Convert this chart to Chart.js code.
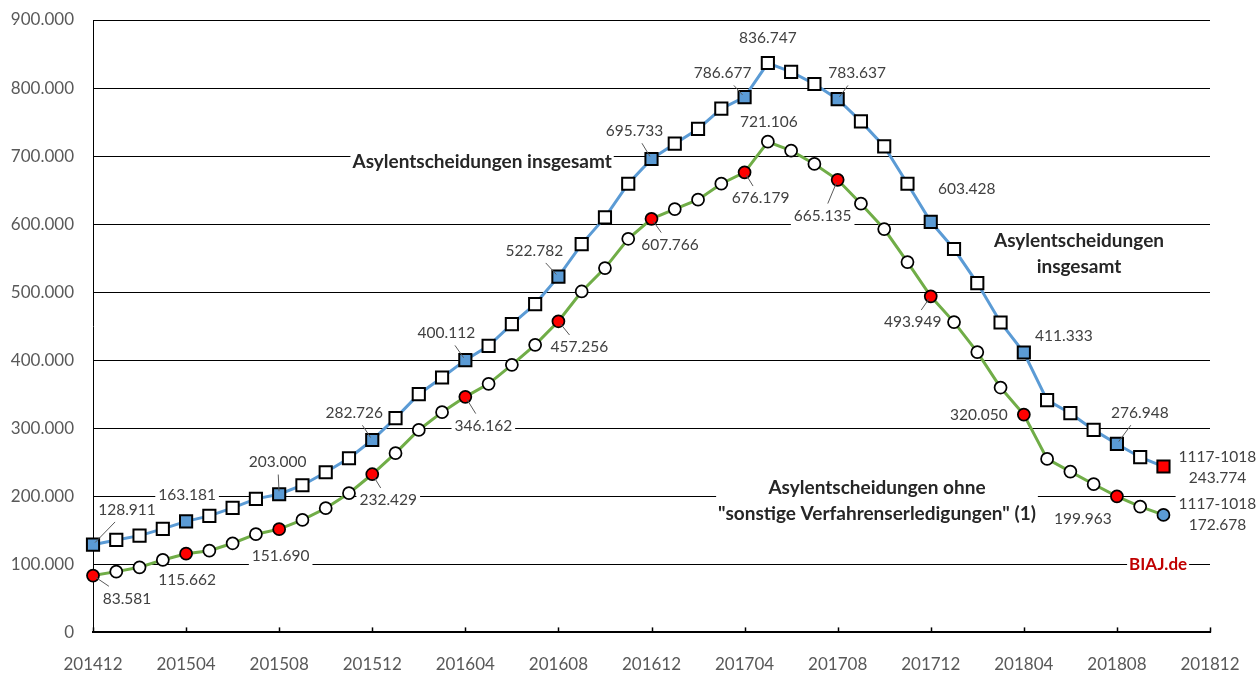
<!DOCTYPE html>
<html><head><meta charset="utf-8">
<script src="https://cdn.jsdelivr.net/npm/chart.js@4.4.1/dist/chart.umd.min.js"></script>
<style>html,body{margin:0;padding:0;background:#fff;}#wrap{width:1260px;height:673px;}</style>
</head><body><div id="wrap"><canvas id="c" width="1260" height="673"></canvas></div>
<script>
const months = ['201412',
 '201501','201502','201503','201504','201505','201506','201507','201508','201509','201510','201511','201512',
 '201601','201602','201603','201604','201605','201606','201607','201608','201609','201610','201611','201612',
 '201701','201702','201703','201704','201705','201706','201707','201708','201709','201710','201711','201712',
 '201801','201802','201803','201804','201805','201806','201807','201808','201809','201810'];
const tickLabels = ['201412','201504','201508','201512','201604','201608','201612','201704','201708','201712','201804','201808','201812'];
const yTicks = [0,100000,200000,300000,400000,500000,600000,700000,800000,900000];
// Asylentscheidungen insgesamt (12-Monats-Summe)
const seriesTotal = [128911,135900,142200,152100,163181,171200,182900,196200,203000,216300,235400,256000,282726,314900,350100,374600,400112,421200,453100,482500,522782,570700,609900,659400,695733,718200,739900,769700,786677,836747,823700,806000,783637,751000,714300,659400,603428,563400,513400,455400,411333,341300,322200,297600,276948,257500,243774];
// Asylentscheidungen ohne "sonstige Verfahrenserledigungen"
const seriesOhne = [83581,89300,95700,106500,115662,120100,131000,144300,151690,165300,182500,204600,232429,263400,297500,323700,346162,365300,393200,422600,457256,501000,535400,578500,607766,622200,635900,659400,676179,721106,707900,688400,665135,630000,592800,544300,493949,456000,411900,359900,320050,255000,236300,217800,199963,184900,172678];
const lastPeriod = '1117-1018';
const nameTotal = 'Asylentscheidungen insgesamt';
const nameTotal2 = ['Asylentscheidungen','insgesamt'];
const nameOhne = ['Asylentscheidungen ohne','"sonstige Verfahrenserledigungen" (1)'];
const source = 'BIAJ.de';

const fmt = v => String(Math.round(v)).replace(/\B(?=(\d{3})+(?!\d))/g,'.');
const last = months.length - 1;

// label layout (pixel offsets from the point, leader line flag)
const totalLabels = [
 {i:0,dx:34,dy:-35,lead:1},{i:4,dx:1,dy:-26},{i:8,dx:-1.5,dy:-32,lead:1},{i:12,dx:-18,dy:-27,lead:1},
 {i:16,dx:-19,dy:-27,lead:1},{i:20,dx:-24,dy:-26,lead:1},{i:24,dx:-17,dy:-28,lead:1},{i:28,dx:-22,dy:-24,lead:1},
 {i:29,dx:0,dy:-25},{i:32,dx:19.5,dy:-26,lead:1},{i:36,dx:36,dy:-33},{i:40,dx:40,dy:-17},
 {i:44,dx:23,dy:-31,lead:1},{i:46,dx:54,dy:1,two:1}];
const ohneLabels = [
 {i:0,dx:34,dy:23,lead:1},{i:4,dx:1,dy:26},{i:8,dx:1.5,dy:26.5},{i:12,dx:16,dy:26,lead:1},
 {i:16,dx:18,dy:29,lead:1},{i:20,dx:21,dy:26,lead:1},{i:24,dx:18.5,dy:26,lead:1},{i:28,dx:16,dy:26,lead:1},
 {i:29,dx:1,dy:-20},{i:32,dx:-15,dy:36,lead:1},{i:36,dx:-18,dy:26,lead:1},{i:40,dx:-45,dy:0},
 {i:44,dx:-34,dy:23},{i:46,dx:54,dy:-0.5,two:1}];

const FONT = 'Lato, "Open Sans", sans-serif';
const valFont = '15.5px ' + FONT;
const boldFont = 'bold 19px ' + FONT;

function buildItems(chart){
  const ctx = chart.ctx, items = [];
  [[0,totalLabels,seriesTotal],[1,ohneLabels,seriesOhne]].forEach(([d,specs,vals])=>{
    const meta = chart.getDatasetMeta(d);
    specs.forEach(s=>{
      const p = meta.data[s.i];
      const lines = s.two ? [lastPeriod, fmt(vals[s.i])] : [fmt(vals[s.i])];
      items.push({cx:p.x+s.dx, cy:p.y+s.dy, px:p.x, py:p.y, lines, font:valFont, color:'#404040', lh:20.5, lead:s.lead, pad:3});
    });
  });
  const xs = chart.scales.x, ys = chart.scales.y;
  const ann = [
    {x:16.72,y:691300,lines:[nameTotal],font:boldFont,color:'#262626',lh:26},
    {x:42.37,y:557000,lines:nameTotal2,font:boldFont,color:'#262626',lh:26},
    {x:33.69,y:193200,lines:nameOhne,font:boldFont,color:'#262626',lh:26},
    {x:45.77,y:100000,lines:[source],font:'bold 17px '+FONT,color:'#C00000',lh:22}
  ];
  ann.forEach(a=>items.push({cx:xs.getPixelForValue(a.x), cy:ys.getPixelForValue(a.y), lines:a.lines, font:a.font, color:a.color, lh:a.lh, pad:2}));
  items.forEach(it=>{
    ctx.save(); ctx.font = it.font;
    it.w = Math.max(...it.lines.map(l=>ctx.measureText(l).width));
    ctx.restore();
    it.h = it.lines.length*it.lh;
  });
  return items;
}

const labelPlugin = {
  id:'lbl',
  beforeDatasetsDraw(chart){
    const ctx = chart.ctx;
    chart.$lblItems = buildItems(chart);
    ctx.save(); ctx.fillStyle = '#fff';
    chart.$lblItems.forEach(it=>{
      ctx.fillRect(it.cx-it.w/2-it.pad, it.cy-it.h/2, it.w+2*it.pad, it.h);
    });
    ctx.restore();
  },
  afterDatasetsDraw(chart){
    const ctx = chart.ctx;
    const items = chart.$lblItems || buildItems(chart);
    ctx.save();
    items.forEach(it=>{
      if(!it.lead) return;
      const hw = it.w/2+3, hh = it.h/2+2;
      const dx = it.px-it.cx, dy = it.py-it.cy;
      const t = Math.min(Math.abs(dx)>0.01?hw/Math.abs(dx):1e9, Math.abs(dy)>0.01?hh/Math.abs(dy):1e9);
      const sx = it.cx+dx*t, sy = it.cy+dy*t;
      const len = Math.hypot(it.px-sx,it.py-sy);
      const ex = it.px-(it.px-sx)/len*3, ey = it.py-(it.py-sy)/len*3;
      ctx.strokeStyle = '#595959'; ctx.lineWidth = 1;
      ctx.beginPath(); ctx.moveTo(sx,sy); ctx.lineTo(ex,ey); ctx.stroke();
    });
    ctx.textAlign = 'center'; ctx.textBaseline = 'middle';
    items.forEach(it=>{
      ctx.font = it.font; ctx.fillStyle = it.color;
      it.lines.forEach((l,k)=>{
        ctx.fillText(l, it.cx, it.cy - it.h/2 + it.lh*(k+0.5));
      });
    });
    ctx.restore();
  },
  afterDraw(chart){
    const ctx = chart.ctx, xs = chart.scales.x, b = chart.chartArea.bottom;
    ctx.save(); ctx.strokeStyle='#000'; ctx.lineWidth=1.5;
    tickLabels.forEach((t,k)=>{
      const x = Math.round(xs.getPixelForValue(k*4))+0.5;
      ctx.beginPath(); ctx.moveTo(x,b); ctx.lineTo(x,b-5); ctx.stroke();
    });
    ctx.restore();
  }
};

const totalData = seriesTotal.map((v,i)=>({x:i,y:v}));
const ohneData = seriesOhne.map((v,i)=>({x:i,y:v}));

new Chart(document.getElementById('c'), {
  type:'line',
  data:{datasets:[
    {label:nameTotal,data:totalData,borderColor:'#5B9BD5',borderWidth:3,tension:0,clip:false,
     pointStyle:'rect',pointRadius:8.6,pointBorderColor:'#000',pointBorderWidth:2,
     pointBackgroundColor:c=>c.dataIndex===last?'#FF0000':(c.dataIndex%4===0?'#5B9BD5':'#FFFFFF')},
    {label:nameOhne.join(' '),data:ohneData,borderColor:'#70AD47',borderWidth:3,tension:0,clip:false,
     pointStyle:'circle',pointRadius:6,pointBorderColor:'#000',pointBorderWidth:1.75,
     pointBackgroundColor:c=>c.dataIndex===last?'#5B9BD5':(c.dataIndex%4===0?'#FF0000':'#FFFFFF')}
  ]},
  options:{
    responsive:false,animation:false,devicePixelRatio:1,
    layout:{padding:{top:20,right:50,left:0,bottom:0}},
    plugins:{legend:{display:false},tooltip:{enabled:false}},
    scales:{
      x:{type:'linear',min:0,max:48,
        afterFit(s){s.height=40.6;s.paddingLeft=0;s.paddingRight=0;},
        afterBuildTicks(s){s.ticks=tickLabels.map((t,k)=>({value:k*4}));},
        ticks:{autoSkip:false,maxRotation:0,padding:22,color:'#595959',font:{family:FONT,size:17},
          callback:v=>tickLabels[Math.round(v/4)]},
        grid:{display:false,drawTicks:false},
        border:{display:true,color:'#000',width:2}},
      y:{min:0,max:900000,
        afterFit(s){s.width=93;s.paddingTop=0;s.paddingBottom=0;},
        afterBuildTicks(s){s.ticks=yTicks.map(v=>({value:v}));},
        ticks:{padding:19,color:'#595959',font:{family:FONT,size:17},callback:v=>fmt(v)},
        grid:{color:'#000',lineWidth:1,drawTicks:false},
        border:{display:true,color:'#000',width:1}}
    }
  },
  plugins:[labelPlugin]
});
</script>
</body></html>
